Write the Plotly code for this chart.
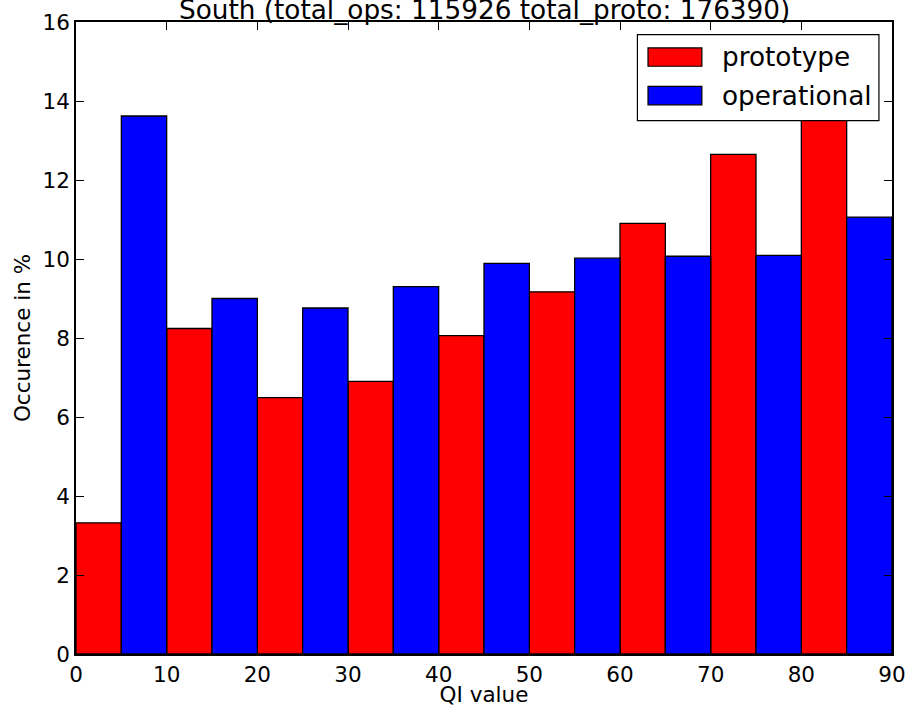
import plotly.graph_objects as go

# QI histogram, South region: percentage of samples per 10-wide QI bin
bin_starts = [0, 10, 20, 30, 40, 50, 60, 70, 80]
prototype_pct = [3.32, 8.24, 6.49, 6.90, 8.06, 9.17, 10.90, 12.65, 14.10]
operational_pct = [13.62, 9.00, 8.76, 9.30, 9.89, 10.02, 10.07, 10.09, 11.06]
series_names = ["prototype", "operational"]
series_colors = ["#ff0000", "#0000ff"]
title_text = "South (total_ops: 115926 total_proto: 176390)"
x_ticks = [0, 10, 20, 30, 40, 50, 60, 70, 80, 90]
y_ticks = [0, 2, 4, 6, 8, 10, 12, 14, 16]

BAR_W = 5
FONT = "DejaVu Sans"

fig = go.Figure()
# each bin holds two side-by-side bars: prototype in the left half, operational in the right half
for k, (vals, name, col) in enumerate(zip([prototype_pct, operational_pct], series_names, series_colors)):
    fig.add_trace(go.Bar(
        x=[s + BAR_W * k + BAR_W / 2 for s in bin_starts],
        y=vals,
        width=BAR_W,
        name=name,
        marker=dict(color=col, line=dict(color="black", width=1.3)),
        showlegend=False,
    ))

axis_common = dict(
    showline=True, linecolor="black", linewidth=1.6, mirror="allticks",
    ticks="inside", ticklen=8, tickwidth=1, tickcolor="black",
    showgrid=False, zeroline=False, automargin=False,
    tickfont=dict(family=FONT, size=21.5, color="black"),
    title_font=dict(family=FONT, size=21.5, color="black"),
)

fig.update_layout(
    width=907, height=707,
    margin=dict(l=76, r=15, t=22, b=53),
    paper_bgcolor="white", plot_bgcolor="white",
    barmode="overlay",
    font=dict(family=FONT, color="black"),
    xaxis=dict(range=[0, 90], tickvals=x_ticks, ticktext=[str(v) for v in x_ticks],
               title=dict(text="QI value", standoff=2), **axis_common),
    yaxis=dict(range=[0, 16], tickvals=y_ticks, ticktext=[str(v) for v in y_ticks],
               title=dict(text="Occurence in %", standoff=6), **axis_common),
)

# title sits just above the frame
fig.add_annotation(text=title_text, xref="paper", yref="paper", x=0.5, y=1,
                   xanchor="center", yanchor="bottom", yshift=-5, showarrow=False,
                   font=dict(family=FONT, size=26.3, color="black"))

# legend box in the upper-right corner, with wide colour swatches
fig.add_shape(type="rect", xref="paper", yref="paper", x0=0.688, x1=0.984, y0=0.844, y1=0.980,
              fillcolor="white", line=dict(color="black", width=1.2), layer="above")
swatch_y = [(0.930, 0.959), (0.869, 0.898)]
label_y = [0.945, 0.883]
for name, col, (y0, y1), ly in zip(series_names, series_colors, swatch_y, label_y):
    fig.add_shape(type="rect", xref="paper", yref="paper", x0=0.701, x1=0.767, y0=y0, y1=y1,
                  fillcolor=col, line=dict(color="black", width=1.2), layer="above")
    fig.add_annotation(text=name, xref="paper", yref="paper", x=0.789, y=ly,
                       xanchor="left", yanchor="middle", showarrow=False,
                       font=dict(family=FONT, size=26.3, color="black"))

fig.write_html("out.html")
